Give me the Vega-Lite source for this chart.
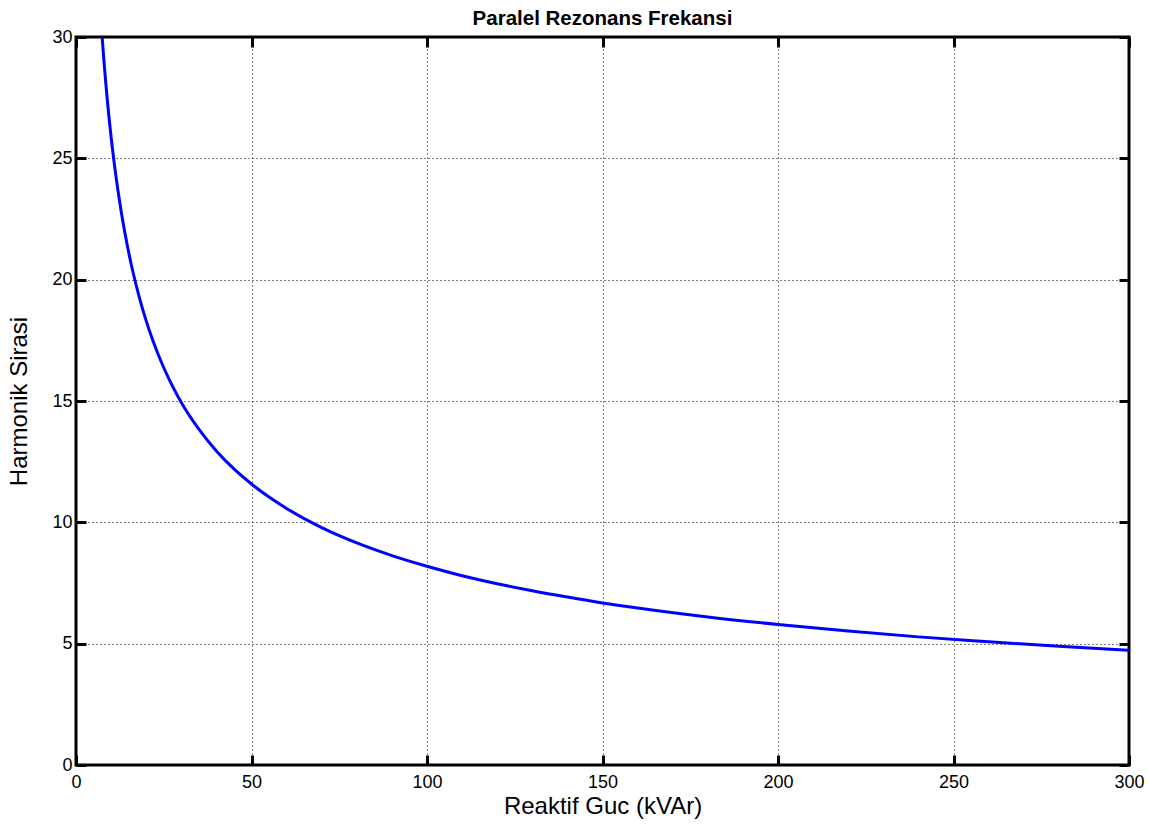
{
  "$schema": "https://vega.github.io/schema/vega-lite/v6.json",
  "autosize": {"type": "none"},
  "padding": {"left": 76, "top": 37, "right": 20, "bottom": 61},
  "width": 1053,
  "height": 728,
  "background": "white",
  "config": {
    "font": "Liberation Sans",
    "view": {"stroke": "black", "strokeWidth": 3},
    "axis": {
      "domain": false,
      "grid": true,
      "gridColor": "black",
      "gridDash": [1, 3],
      "gridWidth": 1,
      "gridOpacity": 1,
      "tickColor": "black",
      "tickSize": -10,
      "tickWidth": 3,
      "labelFont": "Liberation Sans",
      "labelFontSize": 18,
      "labelColor": "black",
      "labelFlush": false,
      "labelOverlap": false,
      "titleFont": "Liberation Sans",
      "titleFontSize": 24,
      "titleFontWeight": "normal",
      "titleColor": "black"
    }
  },
  "title": {
    "text": "Paralel Rezonans Frekansi",
    "font": "Liberation Sans",
    "fontSize": 20.5,
    "fontWeight": "bold",
    "color": "black",
    "anchor": "middle",
    "offset": -1
  },
  "data": {
    "values": [
      {"Q": 7.45, "h": 29.99},
      {"Q": 8, "h": 28.94},
      {"Q": 8.5, "h": 28.08},
      {"Q": 9, "h": 27.28},
      {"Q": 10, "h": 25.88},
      {"Q": 11, "h": 24.68},
      {"Q": 12, "h": 23.63},
      {"Q": 13, "h": 22.70},
      {"Q": 14, "h": 21.88},
      {"Q": 15, "h": 21.13},
      {"Q": 16, "h": 20.46},
      {"Q": 18, "h": 19.29},
      {"Q": 20, "h": 18.30},
      {"Q": 22, "h": 17.45},
      {"Q": 25, "h": 16.37},
      {"Q": 28, "h": 15.47},
      {"Q": 30, "h": 14.94},
      {"Q": 35, "h": 13.84},
      {"Q": 40, "h": 12.94},
      {"Q": 45, "h": 12.20},
      {"Q": 50, "h": 11.58},
      {"Q": 55, "h": 11.04},
      {"Q": 60, "h": 10.57},
      {"Q": 70, "h": 9.78},
      {"Q": 80, "h": 9.15},
      {"Q": 90, "h": 8.63},
      {"Q": 100, "h": 8.19},
      {"Q": 110, "h": 7.80},
      {"Q": 120, "h": 7.47},
      {"Q": 130, "h": 7.18},
      {"Q": 140, "h": 6.92},
      {"Q": 150, "h": 6.68},
      {"Q": 160, "h": 6.47},
      {"Q": 180, "h": 6.10},
      {"Q": 200, "h": 5.79},
      {"Q": 220, "h": 5.52},
      {"Q": 240, "h": 5.28},
      {"Q": 260, "h": 5.08},
      {"Q": 280, "h": 4.89},
      {"Q": 300, "h": 4.73}
    ]
  },
  "layer": [
    {
      "mark": {"type": "line", "color": "#0000FF", "strokeWidth": 3, "interpolate": "monotone", "clip": true},
      "encoding": {
        "x": {
          "field": "Q", "type": "quantitative",
          "scale": {"domain": [0, 300], "nice": false, "zero": false},
          "axis": {"title": "Reaktif Guc (kVAr)", "values": [0, 50, 100, 150, 200, 250, 300], "labelPadding": 18, "titlePadding": 3}
        },
        "y": {
          "field": "h", "type": "quantitative",
          "scale": {"domain": [0, 30], "nice": false, "zero": false},
          "axis": {"title": "Harmonik Sirasi", "values": [0, 5, 10, 15, 20, 25, 30], "labelPadding": 14, "titlePadding": 20}
        }
      }
    },
    {
      "mark": {"type": "line", "strokeOpacity": 0},
      "encoding": {
        "x": {
          "field": "Q", "type": "quantitative",
          "scale": {"domain": [0, 300], "nice": false, "zero": false},
          "axis": {"orient": "top", "title": null, "labels": false, "grid": false, "values": [0, 50, 100, 150, 200, 250, 300]}
        },
        "y": {
          "field": "h", "type": "quantitative",
          "scale": {"domain": [0, 30], "nice": false, "zero": false},
          "axis": {"orient": "right", "title": null, "labels": false, "grid": false, "values": [0, 5, 10, 15, 20, 25, 30]}
        }
      }
    }
  ],
  "resolve": {"axis": {"x": "independent", "y": "independent"}}
}
